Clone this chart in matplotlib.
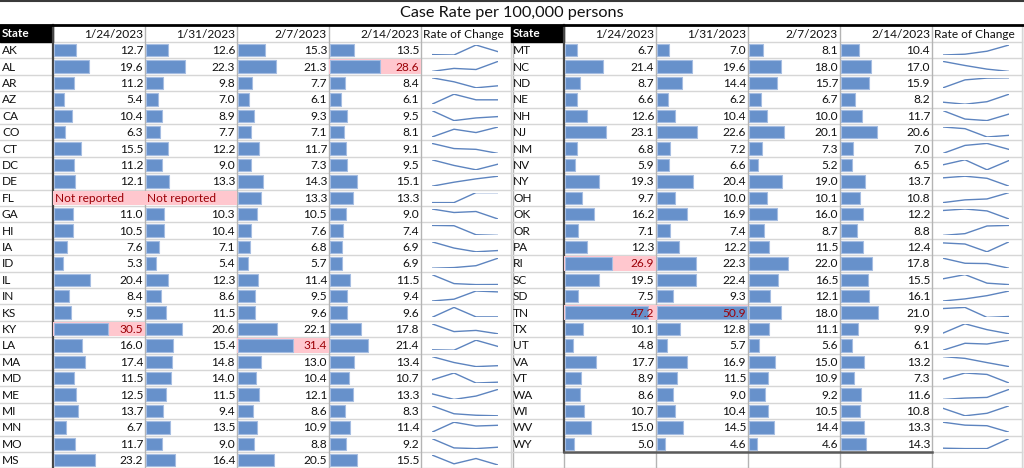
import numpy as np
import matplotlib
matplotlib.use("Agg")
import matplotlib.pyplot as plt
from matplotlib.patches import Rectangle

plt.rcParams['font.family'] = ['Lato', 'DejaVu Sans']

title = "Case Rate per 100,000 persons"
dates = ["1/24/2023", "1/31/2023", "2/7/2023", "2/14/2023"]

states_left = ["AK", "AL", "AR", "AZ", "CA", "CO", "CT", "DC", "DE", "FL", "GA", "HI", "IA",
               "ID", "IL", "IN", "KS", "KY", "LA", "MA", "MD", "ME", "MI", "MN", "MO", "MS"]
w1_left = [12.7, 19.6, 11.2, 5.4, 10.4, 6.3, 15.5, 11.2, 12.1, np.nan, 11.0, 10.5, 7.6,
           5.3, 20.4, 8.4, 9.5, 30.5, 16.0, 17.4, 11.5, 12.5, 13.7, 6.7, 11.7, 23.2]
w2_left = [12.6, 22.3, 9.8, 7.0, 8.9, 7.7, 12.2, 9.0, 13.3, np.nan, 10.3, 10.4, 7.1,
           5.4, 12.3, 8.6, 11.5, 20.6, 15.4, 14.8, 14.0, 11.5, 9.4, 13.5, 9.0, 16.4]
w3_left = [15.3, 21.3, 7.7, 6.1, 9.3, 7.1, 11.7, 7.3, 14.3, 13.3, 10.5, 7.6, 6.8,
           5.7, 11.4, 9.5, 9.6, 22.1, 31.4, 13.0, 10.4, 12.1, 8.6, 10.9, 8.8, 20.5]
w4_left = [13.5, 28.6, 8.4, 6.1, 9.5, 8.1, 9.1, 9.5, 15.1, 13.3, 9.0, 7.4, 6.9,
           6.9, 11.5, 9.4, 9.6, 17.8, 21.4, 13.4, 10.7, 13.3, 8.3, 11.4, 9.2, 15.5]

states_right = ["MT", "NC", "ND", "NE", "NH", "NJ", "NM", "NV", "NY", "OH", "OK", "OR", "PA",
                "RI", "SC", "SD", "TN", "TX", "UT", "VA", "VT", "WA", "WI", "WV", "WY"]
w1_right = [6.7, 21.4, 8.7, 6.6, 12.6, 23.1, 6.8, 5.9, 19.3, 9.7, 16.2, 7.1, 12.3,
            26.9, 19.5, 7.5, 47.2, 10.1, 4.8, 17.7, 8.9, 8.6, 10.7, 15.0, 5.0]
w2_right = [7.0, 19.6, 14.4, 6.2, 10.4, 22.6, 7.2, 6.6, 20.4, 10.0, 16.9, 7.4, 12.2,
            22.3, 22.4, 9.3, 50.9, 12.8, 5.7, 16.9, 11.5, 9.0, 10.4, 14.5, 4.6]
w3_right = [8.1, 18.0, 15.7, 6.7, 10.0, 20.1, 7.3, 5.2, 19.0, 10.1, 16.0, 8.7, 11.5,
            22.0, 16.5, 12.1, 18.0, 11.1, 5.6, 15.0, 10.9, 9.2, 10.5, 14.4, 4.6]
w4_right = [10.4, 17.0, 15.9, 8.2, 11.7, 20.6, 7.0, 6.5, 13.7, 10.8, 12.2, 8.8, 12.4,
            17.8, 15.5, 16.1, 21.0, 9.9, 6.1, 13.2, 7.3, 11.6, 10.8, 13.3, 14.3]

HIGHLIGHT = 25.0

# ---- layout (pixels) ----
W, H = 1024, 468
ROW_H = 16.4
TOP_ROWS = 42
HEAD_TOP = 25
STATE_W = 53
COL_W = 92
SPARK_W = 90
BAR_COLOR = '#6791CB'
BAR_EDGE = '#A5BDE2'
PINK = '#FFC7CE'
RED_TXT = '#9C0006'
GRID = '#D6D6D6'
VGRID = '#B4B4B4'
SPARK_COLOR = '#5D84BF'
FS = 8.6

fig = plt.figure(figsize=(W / 100, H / 100), dpi=100)
bg = fig.add_axes([0, 0, 1, 1])
bg.set_xlim(0, W)
bg.set_ylim(H, 0)
bg.axis('off')

bg.text(W / 2, 13.5, title, ha='center', va='center', fontsize=11.7, color='#111111')

tables = [
    (0, states_left, [w1_left, w2_left, w3_left, w4_left]),
    (511, states_right, [w1_right, w2_right, w3_right, w4_right]),
]

XMIN, XMAX = -0.6, 51.7

for x0, states, cols in tables:
    n = len(states)
    tbl_bottom = TOP_ROWS + n * ROW_H
    # horizontal grid
    for k in range(27):
        y = TOP_ROWS + k * ROW_H
        bg.plot([x0, x0 + STATE_W + 4 * COL_W + SPARK_W], [y, y], color=GRID, lw=1.0, zorder=1)
    # vertical grid
    for j in range(1, 6):
        xv = x0 + STATE_W + j * COL_W
        bg.plot([xv, xv], [HEAD_TOP, H], color=VGRID, lw=1.0, zorder=1)
    bg.plot([x0 + STATE_W + 4 * COL_W + SPARK_W] * 2, [HEAD_TOP, H], color=GRID, lw=1.0, zorder=1)
    bg.plot([x0 + STATE_W] * 2, [HEAD_TOP, tbl_bottom], color='#454545', lw=1.6, zorder=3)
    bg.plot([x0 + STATE_W] * 2, [tbl_bottom, H], color=VGRID, lw=1.0, zorder=1)
    if tbl_bottom < H:
        bg.plot([x0 + STATE_W, x0 + STATE_W + 4 * COL_W], [tbl_bottom, tbl_bottom],
                color='#5A5A5A', lw=1.8, zorder=3)
    # header
    bg.add_patch(Rectangle((x0, HEAD_TOP), STATE_W, TOP_ROWS - HEAD_TOP, color='black', zorder=2))
    bg.text(x0 + 2, (HEAD_TOP + TOP_ROWS) / 2, "State", color='white', fontweight='bold',
            fontsize=FS, ha='left', va='center', zorder=4)
    for j, d in enumerate(dates):
        bg.text(x0 + STATE_W + (j + 1) * COL_W - 2, (HEAD_TOP + TOP_ROWS) / 2 + 0.5, d,
                fontsize=FS, ha='right', va='center', color='#111111')
    bg.text(x0 + STATE_W + 4 * COL_W + 2, (HEAD_TOP + TOP_ROWS) / 2 + 0.5, "Rate of Change",
            fontsize=FS, ha='left', va='center', color='#111111')
    # state labels
    for i, s in enumerate(states):
        bg.text(x0 + 2, TOP_ROWS + (i + 0.5) * ROW_H + 0.5, s, fontsize=FS, ha='left',
                va='center', color='#111111')
    # bar columns
    for j, vals in enumerate(cols):
        left = x0 + STATE_W + j * COL_W
        ax = fig.add_axes([left / W, 1 - tbl_bottom / H, COL_W / W, n * ROW_H / H])
        ax.set_xlim(XMIN, XMAX)
        ax.set_ylim(n - 0.5, -0.5)
        ax.axis('off')
        ax.patch.set_alpha(0)
        v = np.array(vals, dtype=float)
        for i, val in enumerate(v):
            if np.isnan(val):
                ax.axhspan(i - 0.44, i + 0.44, xmin=0.005, xmax=0.995, color=PINK, lw=0, zorder=1)
                ax.text(2 / COL_W, i + 0.03, "Not reported", transform=ax.get_yaxis_transform(),
                        ha='left', va='center', fontsize=FS, color=RED_TXT, zorder=4)
            elif val > HIGHLIGHT:
                ax.axhspan(i - 0.44, i + 0.44, xmin=0.005, xmax=0.995, color=PINK, lw=0, zorder=1)
        ok = ~np.isnan(v)
        ax.barh(np.arange(n)[ok], v[ok], height=0.76, left=0, color=BAR_COLOR,
                edgecolor=BAR_EDGE, lw=0.8, zorder=2)
        for i, val in enumerate(v):
            if np.isnan(val):
                continue
            ax.text(1 - 2 / COL_W, i + 0.03, f"{val:.1f}", transform=ax.get_yaxis_transform(),
                    ha='right', va='center', fontsize=FS,
                    color=RED_TXT if val > HIGHLIGHT else '#111111', zorder=4)
    # sparklines
    sx = x0 + STATE_W + 4 * COL_W + 11
    for i in range(n):
        row = [np.nan_to_num(c[i], nan=0.0) for c in cols]
        top = TOP_ROWS + i * ROW_H + 3
        sa = fig.add_axes([sx / W, 1 - (top + 10) / H, 66 / W, 10 / H])
        sa.plot(range(4), row, color=SPARK_COLOR, lw=1.0, solid_capstyle='round')
        sa.margins(0, 0)
        sa.axis('off')
        sa.patch.set_alpha(0)

# title borders
bg.plot([0, W], [0.8, 0.8], color='#3A3A3A', lw=1.5, zorder=3)
bg.plot([0, W], [HEAD_TOP, HEAD_TOP], color='black', lw=2.0, zorder=3)

fig.savefig("out.png", dpi=100)
